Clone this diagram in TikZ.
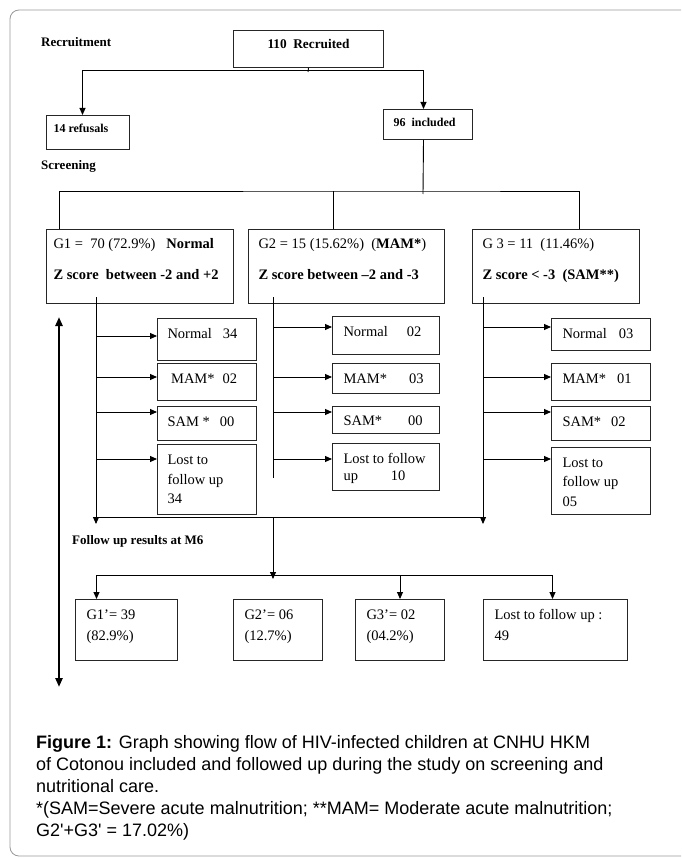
\documentclass[tikz,border=0pt]{standalone}
\usepackage{fontspec}
\setmainfont{Liberation Serif}
\newfontfamily\capfont{Liberation Sans}
\usetikzlibrary{arrows.meta,positioning,calc}
% box text sits at the top of a fixed-size box
\newcommand{\cell}[4][19.5pt]{\parbox[c][#3][t]{#2}{\rule{0pt}{#1}#4}}

\begin{document}
\begin{tikzpicture}[
    x=1pt, y=-1pt,
    box/.style={draw=black!85, line width=1pt, anchor=north west, inner xsep=10pt, inner ysep=0pt, font=\fontsize{14.5}{19.5}\selectfont},
    grp/.style={box, inner xsep=7pt},
    head/.style={box, font=\bfseries\fontsize{12}{14}\selectfont},
    stage/.style={anchor=west, inner sep=0pt, font=\bfseries\fontsize{13}{15}\selectfont},
    arr/.style={-{Triangle[length=7pt,width=6pt]}, line width=0.9pt},
    link/.style={line width=0.9pt}
  ]
  \useasboundingbox (0,0) rectangle (681,858);
  \clip (0,0) rectangle (681,858);
  % outer frame
  \draw[black!40, line width=0.8pt, rounded corners=9pt] (10,10) rectangle (720,856);

  % recruitment
  \node[stage] (lrec) at (41,42) {Recruitment};
  \node[head, font=\bfseries\fontsize{13.3}{15}\selectfont] (rec) at (233,30) {\cell[18.5pt]{130pt}{37pt}{\centering 110\ \ Recruited}};
  \node[head, inner xsep=7pt] (ref) at (46,115) {\cell[17pt]{69pt}{34pt}{14 refusals}};
  \node[head] (inc) at (383,109) {\cell[17pt]{69pt}{30pt}{96\ \ included}};
  \node[stage] (lscr) at (41,166) {Screening};

  \coordinate (j1) at (308,70);
  \draw[link] (rec.south) -- ([yshift=-2pt]j1);
  \draw[arr] (j1) -| ([xshift=-5.5pt]ref.north);
  \draw[arr] (j1) -| ([xshift=-4.5pt]inc.north);

  % screening groups
  \node[grp] (g1) at (46,229) {\cell{173pt}{74pt}{G1 =\ \ 70 (72.9\%)\ \ \ \textbf{Normal}\\[11pt]\textbf{Z score\ \ between -2 and +2}}};
  \node[grp, inner xsep=10pt] (g2) at (248,229) {\cell{176pt}{74pt}{G2 = 15 (15.62\%)\ \ (\textbf{MAM*})\\[11pt]\ \textbf{Z score between --2 and -3}}};
  \node[grp, inner xsep=10pt] (g3) at (472,229) {\cell{147pt}{74pt}{G 3 = 11\ \ (11.46\%)\\[11pt]\textbf{Z score < -3\ \ (SAM**)}}};

  \coordinate (j2) at (423,191);
  \coordinate (t2) at ([xshift=-13pt]g2.north);
  \draw[link] ([xshift=-4.5pt]inc.south) -- ([yshift=-3pt]j2);
  \draw[link] ([xshift=13pt]g1.north west) |- (j2) -| ([xshift=23.5pt]g3.north);
  \draw[link] (t2) -- (t2 |- j2);

  % results per group
  \node[box] (n1) at (157,318) {\cell[20pt]{79pt}{42pt}{Normal\hspace{11pt}34}};
  \node[box] (m1) at (157,363) {\cell{79pt}{37pt}{\ MAM*\hspace{8pt}02}};
  \node[box] (s1) at (157,406) {\cell{79pt}{34pt}{SAM *\hspace{10pt}00}};
  \node[box] (l1) at (157,444) {\cell[20pt]{79pt}{70pt}{Lost to\\follow up\\34}};

  \node[box, inner xsep=11pt] (n2) at (332,316) {\cell{85pt}{38pt}{Normal\hspace{19pt}02}};
  \node[box, inner xsep=11pt] (m2) at (332,363) {\cell{85pt}{30pt}{MAM*\hspace{22pt}03}};
  \node[box, inner xsep=11pt] (s2) at (332,406) {\cell[18.5pt]{85pt}{27pt}{SAM*\hspace{26pt}00}};
  \node[box, inner xsep=11pt] (l2) at (332,443) {\cell[20pt]{85pt}{47pt}{Lost to follow\\[-2.5pt]up\hspace{33pt}10}};

  \node[box, inner xsep=11pt] (n3) at (551,318) {\cell[20pt]{77pt}{32pt}{Normal\hspace{12pt}03}};
  \node[box, inner xsep=11pt] (m3) at (551,363) {\cell{77pt}{37pt}{MAM*\hspace{11pt}01}};
  \node[box, inner xsep=11pt] (s3) at (551,406) {\cell{77pt}{34pt}{SAM*\hspace{10pt}02}};
  \node[box, inner xsep=11pt] (l3) at (551,447) {\cell{77pt}{67pt}{Lost to\\follow up\\05}};

  \coordinate (c1) at ([xshift=50pt]g1.south west);
  \coordinate (c2) at ([xshift=25pt]g2.south west);
  \coordinate (c3) at ([xshift=11pt]g3.south west);
  \coordinate (e1) at (96,524);
  \coordinate (e2) at (273,478);
  \coordinate (e3) at (483,524);
  \coordinate (m6) at (273,517);
  \draw[arr] ([yshift=7pt]c1) -- (e1);
  \draw[link] ([yshift=7pt]c2) -- (e2);
  \draw[arr] ([yshift=7pt]c3) -- (e3);
  \draw[link] (c1 |- m6) -- (c3 |- m6);

  \foreach \b/\d in {n1/-18pt, m1/-14pt, s1/-6pt, l1/-15pt} {
    \coordinate (p\b) at ([yshift=\d]\b.north west);
    \draw[arr] (c1 |- p\b) -- (p\b);
  }
  \foreach \b/\d in {n2/-11pt, m2/-14pt, s2/-6pt, l2/-16pt} {
    \coordinate (p\b) at ([yshift=\d]\b.north west);
    \draw[arr] (c2 |- p\b) -- (p\b);
  }
  \foreach \b/\d in {n3/-9pt, m3/-14pt, s3/-6pt, l3/-12pt} {
    \coordinate (p\b) at ([yshift=\d]\b.north west);
    \draw[arr] (c3 |- p\b) -- (p\b);
  }

  % follow up at M6
  \node[stage] (lfol) at (72,541) {Follow up results at M6};
  \node[box, inner xsep=11pt] (f1) at (75,599) {\cell[20pt]{80pt}{61pt}{G1'= 39\\[1.5pt](82.9\%)}};
  \node[box, inner xsep=11pt] (f2) at (233,599) {\cell[20pt]{67pt}{61pt}{G2'= 06\\[1.5pt](12.7\%)}};
  \node[box, inner xsep=11pt] (f3) at (355,599) {\cell[20pt]{67pt}{61pt}{G3'= 02\\[1.5pt](04.2\%)}};
  \node[box, inner xsep=11pt] (f4) at (483,599) {\cell[20pt]{122pt}{61pt}{Lost to follow up :\\[1.5pt]49}};

  \coordinate (j3) at (273,575);
  \draw[arr] (m6) -- ([yshift=-4pt]j3);
  \draw[arr] (j3) -| ([xshift=-30pt]f1.north);
  \draw[arr] (j3) -| ([xshift=-3pt]f4.north);
  \draw[arr] (f3.north |- j3) -- (f3.north);

  % time axis
  \coordinate (tt) at (59,317);
  \coordinate (tb) at (59,687);
  \draw[{Triangle[length=9pt,width=7pt]}-{Triangle[length=9pt,width=7pt]}, line width=2.2pt] (tt) -- (tb);

  % caption
  \node[anchor=north west, inner sep=0pt, align=left, font=\capfont\fontsize{18}{22}\selectfont] (cap) at (36,735)
    {\textbf{Figure 1:} Graph showing flow of HIV-infected children at CNHU HKM\\
     of Cotonou included and followed up during the study on screening and\\
     nutritional care.\\
     *(SAM=Severe acute malnutrition; **MAM= Moderate acute malnutrition;\\
     G2'+G3' = 17.02\%)};
\end{tikzpicture}
\end{document}
